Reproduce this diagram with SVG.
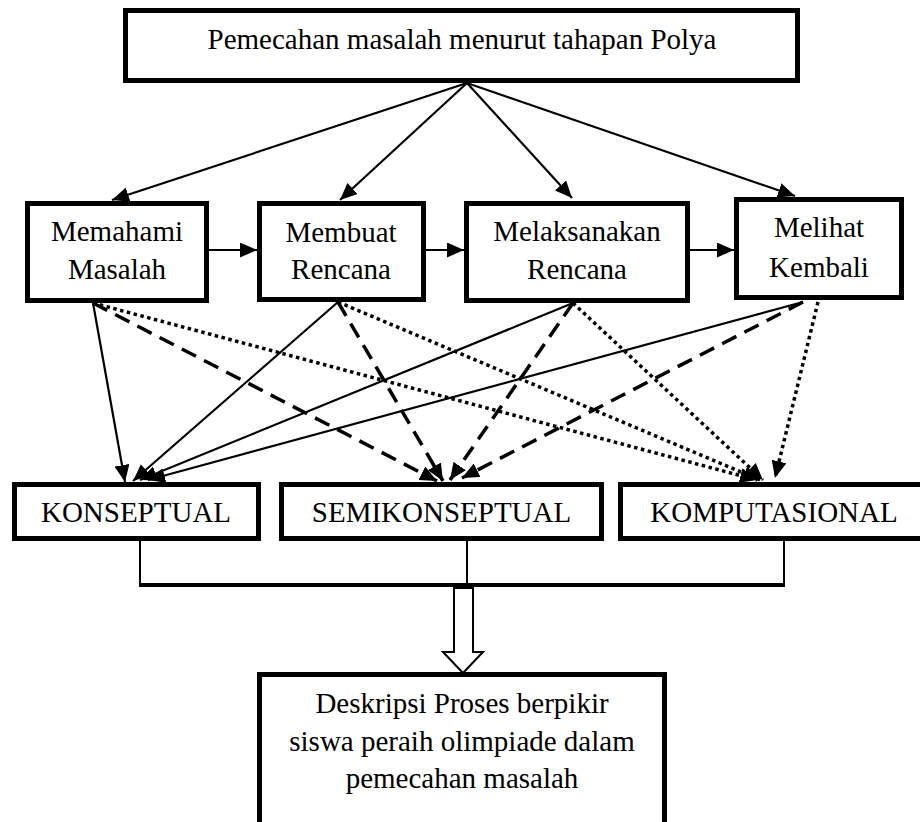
<svg xmlns="http://www.w3.org/2000/svg" width="920" height="822" viewBox="0 0 920 822">
<style>
.box{fill:#fff;stroke:#000;stroke-width:5}
.t{font-family:"Liberation Serif","Times New Roman",serif;font-size:29px;fill:#000;text-anchor:middle}
.s{fill:none;stroke:#000;stroke-width:2.2}
.d{fill:none;stroke:#000;stroke-width:3.5;stroke-dasharray:16 9}
.o{fill:none;stroke:#000;stroke-width:3.5;stroke-dasharray:3.5 3.5}
.ln{fill:none;stroke:#000;stroke-width:2}
</style>
<defs>
<marker id="ah" markerUnits="userSpaceOnUse" markerWidth="17" markerHeight="15" refX="17" refY="7.5" orient="auto" viewBox="0 0 17 15">
<path d="M0,0 L17,7.5 L0,15 z" fill="#000"/>
</marker>
</defs>
<rect width="920" height="822" fill="#fff"/>
<g id="connectors">
<line class="s" x1="467" y1="83" x2="112" y2="200" marker-end="url(#ah)"/>
<line class="s" x1="467" y1="83" x2="340" y2="200" marker-end="url(#ah)"/>
<line class="s" x1="467" y1="83" x2="572" y2="198" marker-end="url(#ah)"/>
<line class="s" x1="467" y1="83" x2="795" y2="196" marker-end="url(#ah)"/>
<line class="s" x1="209" y1="250" x2="257" y2="250" marker-end="url(#ah)"/>
<line class="s" x1="426" y1="250" x2="464" y2="250" marker-end="url(#ah)"/>
<line class="s" x1="688" y1="250" x2="734" y2="250" marker-end="url(#ah)"/>
<line class="s" x1="93" y1="303" x2="125" y2="482" marker-end="url(#ah)"/>
<line class="d" x1="93" y1="303" x2="437" y2="481" marker-end="url(#ah)"/>
<line class="o" x1="93" y1="303" x2="757" y2="480" marker-end="url(#ah)"/>
<line class="s" x1="338" y1="302" x2="133" y2="481" marker-end="url(#ah)"/>
<line class="d" x1="338" y1="302" x2="443" y2="481" marker-end="url(#ah)"/>
<line class="o" x1="338" y1="302" x2="760" y2="480" marker-end="url(#ah)"/>
<line class="s" x1="573" y1="303" x2="140" y2="480" marker-end="url(#ah)"/>
<line class="d" x1="573" y1="303" x2="450" y2="480" marker-end="url(#ah)"/>
<line class="o" x1="573" y1="303" x2="763" y2="480" marker-end="url(#ah)"/>
<line class="s" x1="803" y1="302" x2="148" y2="480" marker-end="url(#ah)"/>
<line class="d" x1="803" y1="302" x2="462" y2="478" marker-end="url(#ah)"/>
<line class="o" x1="818" y1="302" x2="775" y2="478" marker-end="url(#ah)"/>
<line class="ln" x1="140" y1="541" x2="140" y2="585"/>
<line class="ln" x1="467" y1="541" x2="467" y2="585"/>
<line class="ln" x1="784" y1="541" x2="784" y2="585"/>
<line x1="139" y1="585" x2="785" y2="585" stroke="#000" stroke-width="4"/>
<polygon points="454,588 473,588 473,652 483,652 463,673 443,652 454,652" fill="#fff" stroke="#000" stroke-width="2"/>
</g>
<g id="polya">
<rect class="box" x="125.5" y="10.5" width="672" height="70"/>
<text class="t" x="462" y="49">Pemecahan masalah menurut tahapan Polya</text>
</g>
<g id="memahami">
<rect class="box" x="27.5" y="203.5" width="179" height="97"/>
<text class="t" x="117" y="241">Memahami</text>
<text class="t" x="117" y="279">Masalah</text>
</g>
<g id="membuat">
<rect class="box" x="259.5" y="203.5" width="164" height="96"/>
<text class="t" x="341" y="242">Membuat</text>
<text class="t" x="341" y="279">Rencana</text>
</g>
<g id="melaksanakan">
<rect class="box" x="466.5" y="203.5" width="221" height="97"/>
<text class="t" x="577" y="241">Melaksanakan</text>
<text class="t" x="577" y="279">Rencana</text>
</g>
<g id="melihat">
<rect class="box" x="736.5" y="199.5" width="165" height="98"/>
<text class="t" x="819" y="237">Melihat</text>
<text class="t" x="819" y="277">Kembali</text>
</g>
<g id="konseptual">
<rect class="box" x="14.5" y="484.5" width="244" height="54"/>
<text class="t" x="136" y="522">KONSEPTUAL</text>
</g>
<g id="semikonseptual">
<rect class="box" x="281.5" y="484.5" width="320" height="54"/>
<text class="t" x="441.5" y="522">SEMIKONSEPTUAL</text>
</g>
<g id="komputasional">
<rect class="box" x="620.5" y="484.5" width="320" height="54"/>
<text class="t" x="774" y="522">KOMPUTASIONAL</text>
</g>
<g id="deskripsi">
<rect class="box" x="259.5" y="674.5" width="405" height="160"/>
<text class="t" x="462" y="713">Deskripsi Proses berpikir</text>
<text class="t" x="462" y="751">siswa peraih olimpiade dalam</text>
<text class="t" x="462" y="788">pemecahan masalah</text>
</g>
</svg>
